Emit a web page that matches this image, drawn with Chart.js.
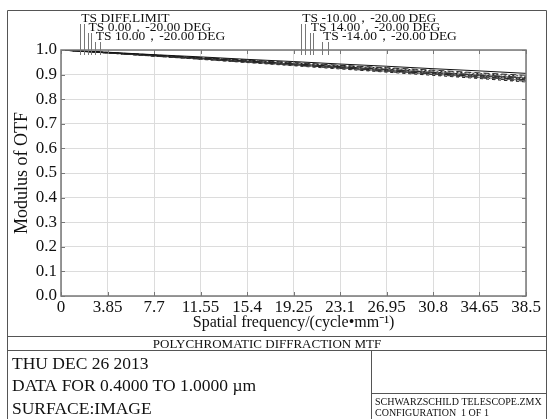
<!DOCTYPE html>
<html>
<head>
<meta charset="utf-8">
<script src="https://cdn.jsdelivr.net/npm/chart.js@4.4.0/dist/chart.umd.min.js"></script>
<style>
  html, body { margin: 0; padding: 0; background: #fff; }
  #wrap { width: 549px; height: 419px; position: relative; }
</style>
</head>
<body>
<div id="wrap"><canvas id="mtfChart"></canvas></div>
<script>
// spatial frequency (cycle/mm) and tick labels
const freqs = [0, 3.85, 7.7, 11.55, 15.4, 19.25, 23.1, 26.95, 30.8, 34.65, 38.5];
const xTickLabels = ['0', '3.85', '7.7', '11.55', '15.4', '19.25', '23.1', '26.95', '30.8', '34.65', '38.5'];
const yTickValues = [0, 0.1, 0.2, 0.3, 0.4, 0.5, 0.6, 0.7, 0.8, 0.9, 1.0];

// MTF values
const diffLimit = [1, 0.991, 0.981, 0.972, 0.962, 0.953, 0.943, 0.934, 0.924, 0.915, 0.905];
const field0T   = [1, 0.990, 0.980, 0.969, 0.959, 0.949, 0.938, 0.928, 0.918, 0.907, 0.897];
const field0S   = [1, 0.990, 0.979, 0.968, 0.958, 0.947, 0.936, 0.926, 0.915, 0.904, 0.893];
const field10T  = [1, 0.989, 0.978, 0.967, 0.955, 0.944, 0.933, 0.922, 0.910, 0.899, 0.888];
const field10S  = [1, 0.989, 0.978, 0.966, 0.955, 0.943, 0.932, 0.920, 0.909, 0.897, 0.886];
const fieldM10T = [1, 0.989, 0.977, 0.966, 0.954, 0.943, 0.931, 0.920, 0.908, 0.896, 0.884];
const fieldM10S = [1, 0.989, 0.977, 0.965, 0.953, 0.942, 0.930, 0.918, 0.906, 0.894, 0.882];
const field14T  = [1, 0.988, 0.976, 0.964, 0.952, 0.940, 0.928, 0.916, 0.904, 0.892, 0.879];
const field14S  = [1, 0.988, 0.976, 0.964, 0.951, 0.939, 0.927, 0.914, 0.902, 0.889, 0.876];
const fieldM14T = [1, 0.988, 0.975, 0.963, 0.950, 0.938, 0.925, 0.912, 0.900, 0.887, 0.873];
const fieldM14S = [1, 0.988, 0.975, 0.962, 0.949, 0.936, 0.923, 0.910, 0.897, 0.884, 0.870];

// curve labels and where their leader lines sit (cycle/mm)
const seriesNames = ['TS DIFF.LIMIT', 'TS 0.00，-20.00 DEG', 'TS 10.00，-20.00 DEG',
                     'TS -10.00，-20.00 DEG', 'TS 14.00，-20.00 DEG', 'TS -14.00，-20.00 DEG'];
const leaderFreqs = [[1.6, 1.9], [2.2, 2.5], [2.8, 3.2], [19.9, 20.2], [20.6, 20.9], [21.6, 22.1]];

const SERIF = '"Liberation Serif", "Times New Roman", serif';

function line(data, dash, color){
    return {
        data: data.map((v, i) => ({x: freqs[i], y: v})),
        borderColor: color || '#222',
        borderWidth: 1,
        borderDash: dash || [],
        pointRadius: 0,
        fill: false,
        tension: 0
    };
}

const framePlugin = {
    id: 'framePlugin',
    afterDraw(chart){
        const ctx = chart.ctx;
        const a = chart.chartArea;
        const xs = chart.scales.x, ys = chart.scales.y;
        ctx.save();

        // plot frame + small inner ticks
        ctx.strokeStyle = '#777';
        ctx.lineWidth = 1.5;
        ctx.strokeRect(a.left, a.top, a.right - a.left, a.bottom - a.top);
        ctx.lineWidth = 1;
        ctx.beginPath();
        freqs.forEach(f => {
            const px = Math.round(xs.getPixelForValue(f)) + 0.5;
            ctx.moveTo(px, a.bottom); ctx.lineTo(px, a.bottom - 4);
            ctx.moveTo(px, a.top); ctx.lineTo(px, a.top + 4);
        });
        yTickValues.forEach(v => {
            const py = Math.round(ys.getPixelForValue(v)) + 0.5;
            ctx.moveTo(a.left, py); ctx.lineTo(a.left + 4, py);
            ctx.moveTo(a.right, py); ctx.lineTo(a.right - 4, py);
        });
        ctx.stroke();

        // leader lines and curve labels
        ctx.strokeStyle = '#777';
        ctx.fillStyle = '#111';
        ctx.font = '13.5px ' + SERIF;
        ctx.textBaseline = 'alphabetic';
        const rowY = [22, 31, 40];
        seriesNames.forEach((name, i) => {
            const row = i % 3;
            const x0 = xs.getPixelForValue(leaderFreqs[i][0]);
            ctx.beginPath();
            leaderFreqs[i].forEach(f => {
                const px = Math.round(xs.getPixelForValue(f)) + 0.5;
                ctx.moveTo(px, rowY[row] + 2);
                ctx.lineTo(px, a.top + 5);
            });
            ctx.stroke();
            ctx.fillText(name, x0 + 1, rowY[row]);
        });

        // outer border and info boxes
        ctx.strokeStyle = '#555';
        ctx.lineWidth = 1;
        ctx.beginPath();
        ctx.moveTo(7.5, 419); ctx.lineTo(7.5, 10.5); ctx.lineTo(546.5, 10.5); ctx.lineTo(546.5, 419);
        ctx.moveTo(7.5, 336.5); ctx.lineTo(546.5, 336.5);
        ctx.moveTo(7.5, 350.5); ctx.lineTo(546.5, 350.5);
        ctx.moveTo(371.5, 350.5); ctx.lineTo(371.5, 419);
        ctx.moveTo(371.5, 393.5); ctx.lineTo(546.5, 393.5);
        ctx.stroke();

        ctx.fillStyle = '#111';
        ctx.textAlign = 'center';
        ctx.font = '13px ' + SERIF;
        ctx.fillText('POLYCHROMATIC DIFFRACTION MTF', 267, 348);
        ctx.textAlign = 'left';
        ctx.font = '17.5px ' + SERIF;
        ctx.fillText('THU DEC 26 2013', 12, 369);
        ctx.fillText('DATA FOR 0.4000 TO 1.0000 µm', 12, 391);
        ctx.fillText('SURFACE:IMAGE', 12, 414);
        ctx.font = '10px ' + SERIF;
        ctx.fillText('SCHWARZSCHILD TELESCOPE.ZMX', 375, 405);
        ctx.fillText('CONFIGURATION  1 OF 1', 375, 416);
        ctx.restore();
    }
};

const ct = document.getElementById('mtfChart').getContext('2d');
const mtfChart = new Chart(ct, {
    type: 'line',
    data: {
        datasets: [
            line(diffLimit, [], '#111'),
            line(field0T, [6, 3]),
            line(field0S, [2, 2]),
            line(field10T, [8, 3, 2, 3]),
            line(field10S, [], '#444'),
            line(fieldM10T, [5, 2]),
            line(fieldM10S, [1, 2]),
            line(field14T, [9, 3]),
            line(field14S, [], '#555'),
            line(fieldM14T, [4, 2, 1, 2]),
            line(fieldM14S, [3, 3])
        ]
    },
    options: {
        responsive: true,
        maintainAspectRatio: false,
        animation: false,
        layout: { padding: { left: 8, right: 23, top: 50, bottom: 83 } },
        plugins: { legend: { display: false }, tooltip: { enabled: false } },
        scales: {
            x: {
                type: 'linear',
                min: 0,
                max: 38.5,
                afterBuildTicks: scale => { scale.ticks = freqs.map(v => ({value: v})); },
                afterFit: scale => { scale.height = 40; },
                ticks: {
                    autoSkip: false,
                    maxRotation: 0,
                    padding: 1,
                    color: '#111',
                    font: { family: SERIF, size: 17 },
                    callback: (v, i) => xTickLabels[i]
                },
                grid: { color: '#dcdcdc', drawTicks: false },
                border: { display: false },
                title: {
                    display: true,
                    text: 'Spatial frequency/(cycle•mm⁻¹)',
                    color: '#111',
                    font: { family: SERIF, size: 16 },
                    padding: { top: 0, bottom: 4 }
                }
            },
            y: {
                min: 0,
                max: 1,
                afterBuildTicks: scale => { scale.ticks = yTickValues.map(v => ({value: v})); },
                afterFit: scale => { scale.width = 53; },
                ticks: {
                    padding: 4,
                    color: '#111',
                    font: { family: SERIF, size: 17 },
                    callback: v => v.toFixed(1)
                },
                grid: { color: '#dcdcdc', drawTicks: false },
                border: { display: false },
                title: {
                    display: true,
                    text: 'Modulus of OTF',
                    color: '#111',
                    font: { family: SERIF, size: 18 },
                    padding: { top: 3, bottom: 4 }
                }
            }
        }
    },
    plugins: [framePlugin]
});
</script>
</body>
</html>
